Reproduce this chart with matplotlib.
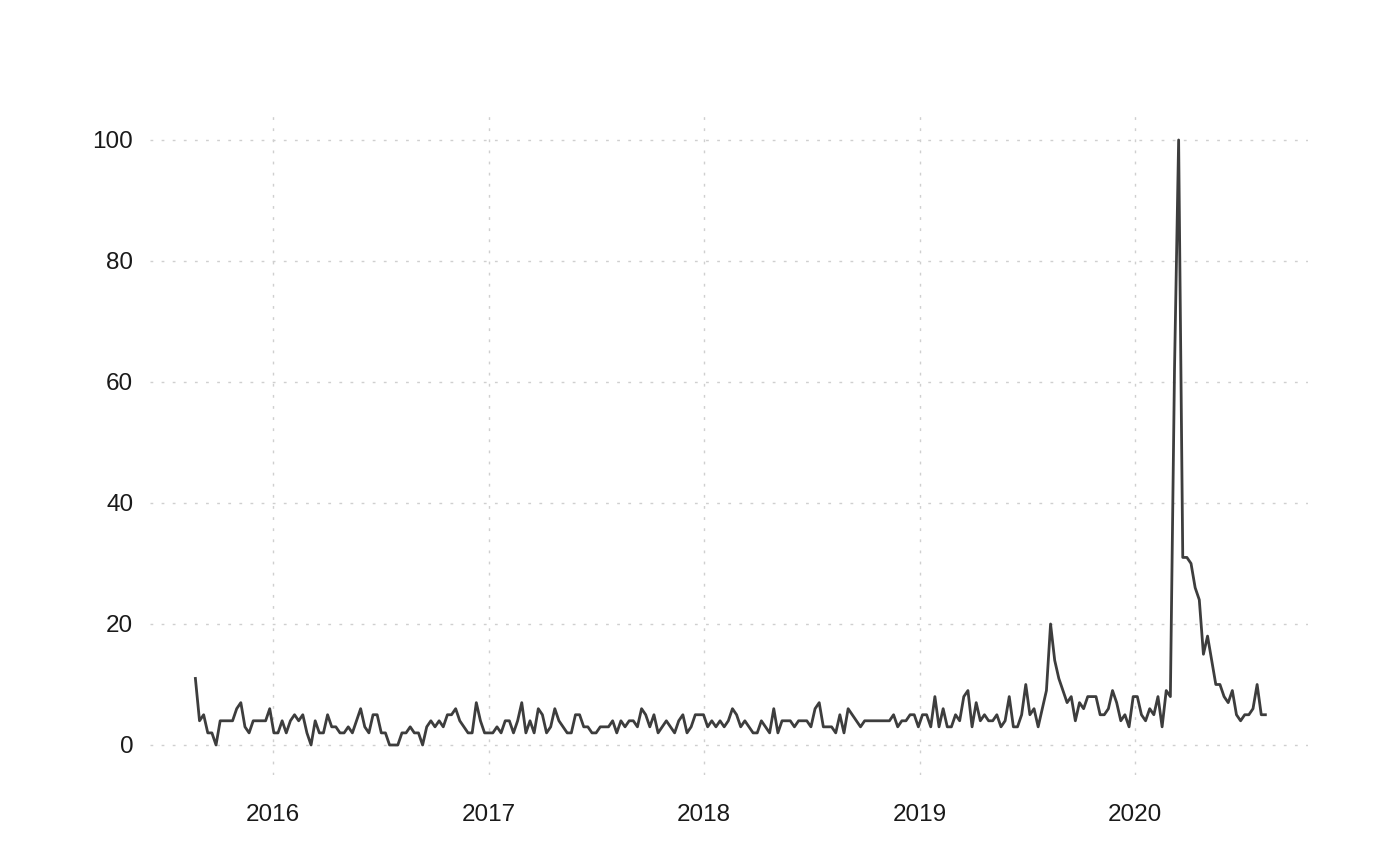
import matplotlib
matplotlib.use("Agg")
import matplotlib.pyplot as plt
import matplotlib.dates as mdates
import pandas as pd

# weekly search interest, starting Sunday 2015-08-23
start_week = "2015-08-23"
interest = [
    11, 4, 5, 2, 2, 0, 4, 4, 4, 4, 6, 7, 3, 2, 4, 4, 4, 4, 6, 2,
    2, 4, 2, 4, 5, 4, 5, 2, 0, 4, 2, 2, 5, 3, 3, 2, 2, 3, 2, 4,
    6, 3, 2, 5, 5, 2, 2, 0, 0, 0, 2, 2, 3, 2, 2, 0, 3, 4, 3, 4,
    3, 5, 5, 6, 4, 3, 2, 2, 7, 4, 2, 2, 2, 3, 2, 4, 4, 2, 4, 7,
    2, 4, 2, 6, 5, 2, 3, 6, 4, 3, 2, 2, 5, 5, 3, 3, 2, 2, 3, 3,
    3, 4, 2, 4, 3, 4, 4, 3, 6, 5, 3, 5, 2, 3, 4, 3, 2, 4, 5, 2,
    3, 5, 5, 5, 3, 4, 3, 4, 3, 4, 6, 5, 3, 4, 3, 2, 2, 4, 3, 2,
    6, 2, 4, 4, 4, 3, 4, 4, 4, 3, 6, 7, 3, 3, 3, 2, 5, 2, 6, 5,
    4, 3, 4, 4, 4, 4, 4, 4, 4, 5, 3, 4, 4, 5, 5, 3, 5, 5, 3, 8,
    3, 6, 3, 3, 5, 4, 8, 9, 3, 7, 4, 5, 4, 4, 5, 3, 4, 8, 3, 3,
    5, 10, 5, 6, 3, 6, 9, 20, 14, 11, 9, 7, 8, 4, 7, 6, 8, 8, 8, 5,
    5, 6, 9, 7, 4, 5, 3, 8, 8, 5, 4, 6, 5, 8, 3, 9, 8, 62, 100, 31,
    31, 30, 26, 24, 15, 18, 14, 10, 10, 8, 7, 9, 5, 4, 5, 5, 6, 10, 5, 5,
]
year_ticks = ["2016", "2017", "2018", "2019", "2020"]
y_ticks = [0, 20, 40, 60, 80, 100]

weeks = pd.date_range(start_week, periods=len(interest), freq="7D")

plt.rcParams["font.family"] = ["Liberation Sans", "DejaVu Sans"]

fig = plt.figure(figsize=(14, 8.66), dpi=100)
ax = fig.add_axes([0.1071, 0.1048, 0.8271, 0.7685])

ax.plot(weeks, interest, color="#3d3d3d", linewidth=2)

ax.set_xlim(pd.Timestamp("2015-06-07"), pd.Timestamp("2020-10-20"))
ax.set_ylim(-5, 105)

ax.set_xticks([pd.Timestamp(y + "-01-01") for y in year_ticks])
ax.xaxis.set_major_formatter(mdates.DateFormatter("%Y"))
ax.set_yticks(y_ticks)

ax.grid(True, color="#cfcfcf", linestyle=(0, (2, 6)), linewidth=1)
ax.set_axisbelow(True)
for s in ax.spines.values():
    s.set_visible(False)
ax.tick_params(length=0, labelsize=17.5, labelcolor="#1a1a1a")
ax.tick_params(axis="y", pad=12)
ax.tick_params(axis="x", pad=21)

fig.savefig("out.png", dpi=100)
